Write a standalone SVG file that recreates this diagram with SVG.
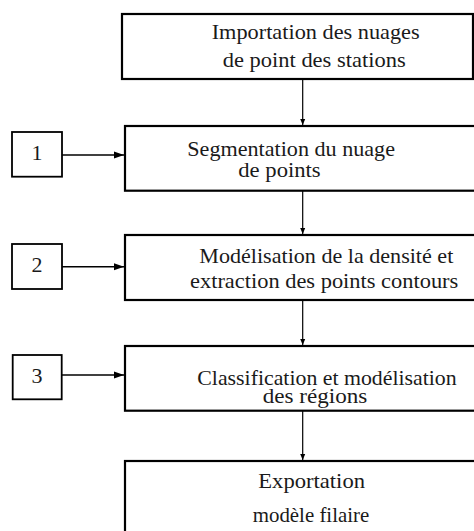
<svg xmlns="http://www.w3.org/2000/svg" width="474" height="531" viewBox="0 0 474 531">
<style>
.box{fill:#fff;stroke:#000;stroke-width:2.2}
.sbox{fill:#fff;stroke:#000;stroke-width:1.8}
.t{font-family:"Liberation Serif","Times New Roman",serif;font-size:21px;fill:#1a1a1a}
.n{font-family:"Liberation Serif","Times New Roman",serif;font-size:22px;fill:#1a1a1a;text-anchor:middle}
.v{stroke:#000;stroke-width:1.2;fill:none}
.h{stroke:#000;stroke-width:1.6;fill:none}
</style>
<defs>
<marker id="a1" markerWidth="8" markerHeight="8" refX="7" refY="4" orient="auto" markerUnits="userSpaceOnUse"><path d="M1,1.5 L7,4 L1,6.5 Z" fill="#000"/></marker>
<marker id="a2" markerWidth="12" markerHeight="10" refX="11" refY="5" orient="auto" markerUnits="userSpaceOnUse"><path d="M1,1.5 L11,5 L1,8.5 Z" fill="#000"/></marker>
</defs>
<g id="connectors">
<line class="v" x1="302.7" y1="79" x2="302.7" y2="125" marker-end="url(#a1)"/>
<line class="v" x1="302.7" y1="191" x2="302.7" y2="234" marker-end="url(#a1)"/>
<line class="v" x1="302.7" y1="300" x2="302.7" y2="345" marker-end="url(#a1)"/>
<line class="v" x1="302.7" y1="411" x2="302.7" y2="460" marker-end="url(#a1)"/>
<line class="h" x1="62" y1="155" x2="124" y2="155" marker-end="url(#a2)"/>
<line class="h" x1="62" y1="266.7" x2="124" y2="266.7" marker-end="url(#a2)"/>
<line class="h" x1="62" y1="375" x2="124" y2="375" marker-end="url(#a2)"/>
</g>
<g id="n1">
<rect class="box" x="122" y="14" width="351" height="65"/>
<text class="t" x="211.7" y="39.3" textLength="208" lengthAdjust="spacingAndGlyphs">Importation des nuages</text>
<text class="t" x="222.7" y="66.7" textLength="183" lengthAdjust="spacingAndGlyphs">de point des stations</text>
</g>
<g id="n2">
<rect class="box" x="125" y="126" width="360" height="64.7"/>
<text class="t" x="187.3" y="156" textLength="207.7" lengthAdjust="spacingAndGlyphs">Segmentation du nuage</text>
<text class="t" x="238.3" y="177" textLength="82.4" lengthAdjust="spacingAndGlyphs">de points</text>
</g>
<g id="n3">
<rect class="box" x="125" y="235" width="360" height="65"/>
<text class="t" x="199.3" y="262.7" textLength="254" lengthAdjust="spacingAndGlyphs">Modélisation de la densité et</text>
<text class="t" x="190" y="288.3" textLength="268.3" lengthAdjust="spacingAndGlyphs">extraction des points contours</text>
</g>
<g id="n4">
<rect class="box" x="125" y="346" width="360" height="64.7"/>
<text class="t" x="197.3" y="385" textLength="259.4" lengthAdjust="spacingAndGlyphs">Classification et modélisation</text>
<text class="t" x="262.7" y="402.7" textLength="104.6" lengthAdjust="spacingAndGlyphs">des régions</text>
</g>
<g id="n5">
<rect class="box" x="125" y="461" width="360" height="90"/>
<text class="t" x="258.3" y="488.3" textLength="106.7" lengthAdjust="spacingAndGlyphs">Exportation</text>
<text class="t" x="252.7" y="521.7" textLength="116.6" lengthAdjust="spacingAndGlyphs">modèle filaire</text>
</g>
<g id="s1">
<rect class="sbox" x="12" y="132" width="50" height="44.7"/>
<text class="n" x="37" y="160">1</text>
</g>
<g id="s2">
<rect class="sbox" x="12" y="244" width="50" height="45"/>
<text class="n" x="37" y="271.7">2</text>
</g>
<g id="s3">
<rect class="sbox" x="12.7" y="355" width="49" height="44.3"/>
<text class="n" x="37" y="383.3">3</text>
</g>
</svg>
